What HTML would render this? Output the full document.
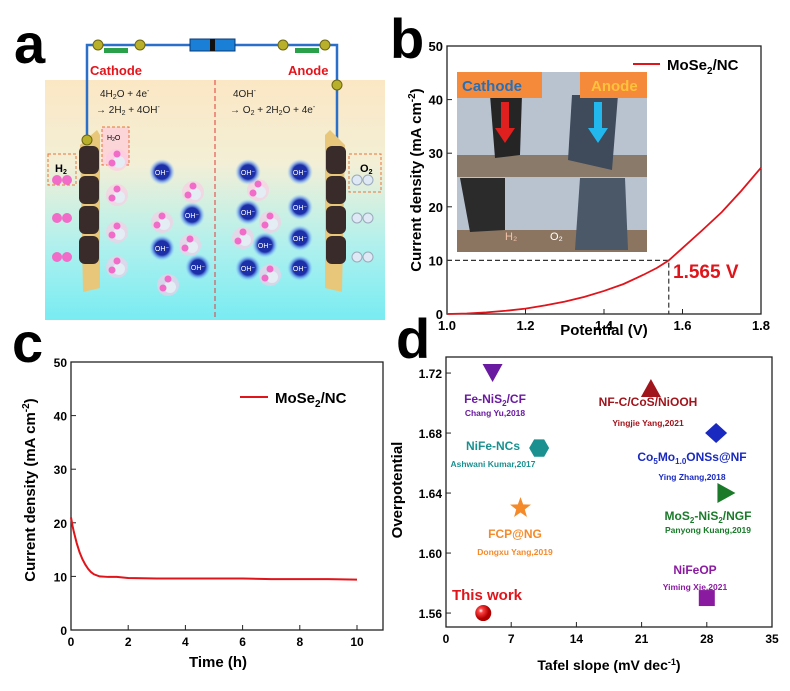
<!DOCTYPE html>
<html><head><meta charset="utf-8"><style>
html,body{margin:0;padding:0;background:#fff;}
svg{display:block;font-family:"Liberation Sans",Arial,sans-serif;}
</style></head><body>
<svg id="fig" width="790" height="691" viewBox="0 0 790 691" xmlns="http://www.w3.org/2000/svg">
<defs>
<linearGradient id="bg" x1="0" y1="0" x2="0" y2="1">
<stop offset="0" stop-color="#fbe7c4"/><stop offset="0.35" stop-color="#f3efd6"/><stop offset="0.7" stop-color="#aef0ee"/><stop offset="1" stop-color="#78ecf2"/>
</linearGradient>
<radialGradient id="ohg"><stop offset="0.55" stop-color="#1d2fa8"/><stop offset="0.75" stop-color="#4f7de8" stop-opacity="0.6"/><stop offset="1" stop-color="#8fd6ff" stop-opacity="0"/></radialGradient>
<radialGradient id="sph" cx="0.35" cy="0.35"><stop offset="0" stop-color="#fff"/><stop offset="0.3" stop-color="#ff4040"/><stop offset="1" stop-color="#b00000"/></radialGradient>
</defs>

<text x="14" y="63" font-size="56" font-weight="bold">a</text>
<text x="390" y="58" font-size="56" font-weight="bold">b</text>
<text x="12" y="362" font-size="56" font-weight="bold">c</text>
<text x="396" y="358" font-size="56" font-weight="bold">d</text>

<g id="panelA">
<rect x="45" y="80" width="340" height="240" fill="url(#bg)"/>
<polyline points="87,140 87,45 337,45 337,140" fill="none" stroke="#2a6fc9" stroke-width="2.5"/>
<rect x="190" y="39" width="45" height="12" fill="#1a7fd6" stroke="#0b3a75"/>
<rect x="210" y="39" width="5" height="12" fill="#111"/>
<text x="90" y="75" font-size="13" font-weight="bold" fill="#e5141b">Cathode</text>
<text x="288" y="75" font-size="13" font-weight="bold" fill="#e5141b">Anode</text>
<line x1="215" y1="80" x2="215" y2="320" stroke="#e23a3a" stroke-width="1" stroke-dasharray="5,3"/>
<text x="100" y="97" font-size="10" fill="#222">4H<tspan font-size="7" dy="2">2</tspan><tspan dy="-2">O + 4e</tspan><tspan font-size="7" dy="-4">-</tspan></text>
<text x="96" y="113" font-size="10" fill="#222">→ 2H<tspan font-size="7" dy="2">2</tspan><tspan dy="-2"> + 4OH</tspan><tspan font-size="7" dy="-4">-</tspan></text>
<text x="233" y="97" font-size="10" fill="#222">4OH<tspan font-size="7" dy="-4">-</tspan></text>
<text x="230" y="113" font-size="10" fill="#222">→ O<tspan font-size="7" dy="2">2</tspan><tspan dy="-2"> + 2H</tspan><tspan font-size="7" dy="2">2</tspan><tspan dy="-2">O + 4e</tspan><tspan font-size="7" dy="-4">-</tspan></text>
<polygon points="80,145 97,130 100,135 100,288 83,292" fill="#e8c77a"/>
<polygon points="345,145 330,130 325,135 325,288 342,292" fill="#e8c77a"/>
<rect x="48" y="154" width="28" height="31" fill="none" stroke="#e8743a" stroke-dasharray="3,2"/>
<rect x="102" y="127" width="27" height="38" fill="#fbd5d8" stroke="#e8743a" stroke-dasharray="3,2"/>
<rect x="349" y="154" width="32" height="38" fill="none" stroke="#e8743a" stroke-dasharray="3,2"/>
<text x="55" y="172" font-size="11" font-weight="bold">H<tspan font-size="7" dy="2">2</tspan></text>
<text x="107" y="140" font-size="7">H<tspan font-size="5" dy="1">2</tspan><tspan dy="-1">O</tspan></text>
<text x="360" y="172" font-size="11" font-weight="bold">O<tspan font-size="7" dy="2">2</tspan></text>
<g id="molecules"></g>
</g>

<g id="panelB"></g>
<g id="panelC"></g>
<g id="panelD"></g>
</svg>
<script>
// ---- Panel b data ----
const lsvPotential = [1.0,1.05,1.1,1.15,1.2,1.25,1.3,1.35,1.4,1.45,1.5,1.535,1.565,1.6,1.65,1.7,1.75,1.8];
const lsvCurrent   = [0,0.1,0.3,0.6,1.0,1.6,2.3,3.2,4.3,5.6,7.3,8.6,10,12.3,15.6,19,23,27.3];
const lsvXTicks = [1.0,1.2,1.4,1.6,1.8];
const lsvYTicks = [0,10,20,30,40,50];
// ---- Panel c data ----
const stabTime    = [0,0.05,0.1,0.2,0.3,0.4,0.5,0.6,0.7,0.8,1,1.3,1.6,2,3,4,5,6,7,8,9,10];
const stabCurrent = [21,19.5,18.3,16.2,14.5,13.2,12.2,11.4,10.8,10.4,10.0,9.9,9.9,9.7,9.6,9.6,9.6,9.6,9.5,9.5,9.5,9.4];
const stabXTicks = [0,2,4,6,8,10];
const stabYTicks = [0,10,20,30,40,50];
// ---- Panel d data ----
const catNames   = ["This work","Fe-NiS2/CF","NF-C/CoS/NiOOH","Co5Mo1.0ONSs@NF","NiFe-NCs","FCP@NG","MoS2-NiS2/NGF","NiFeOP"];
const catTafel   = [4,5,22,29,10,8,30,28];
const catOverpot = [1.56,1.72,1.71,1.68,1.67,1.63,1.64,1.57];
const catRefs    = ["","Chang Yu,2018","Yingjie Yang,2021","Ying Zhang,2018","Ashwani Kumar,2017","Dongxu Yang,2019","Panyong Kuang,2019","Yiming Xie,2021"];
const tafelTicks = [0,7,14,21,28,35];
const overTicks  = [1.56,1.60,1.64,1.68,1.72];

const NS="http://www.w3.org/2000/svg";
function mk(parent,tag,attrs,text){const e=document.createElementNS(NS,tag);for(const k in attrs)e.setAttribute(k,attrs[k]);if(text!==undefined)e.textContent=text;parent.appendChild(e);return e;}

(function(){
 const g=document.getElementById('molecules');
 [[89,160],[89,190],[89,220],[89,250],[336,160],[336,190],[336,220],[336,250]].forEach(p=>{
   const b=mk(g,'rect',{x:p[0]-10,y:p[1]-14,width:20,height:28,rx:6,fill:'#3a2b2b'});
   
   
 });
 [180,218,257].forEach(yy=>{mk(g,'circle',{cx:57,cy:yy,r:5,fill:'#f06cc8'});mk(g,'circle',{cx:67,cy:yy,r:5,fill:'#f06cc8'});
   mk(g,'circle',{cx:357,cy:yy,r:5,fill:'#dfe8f5',stroke:'#9ab'});mk(g,'circle',{cx:368,cy:yy,r:5,fill:'#dfe8f5',stroke:'#9ab'});});
 [[117,160],[117,195],[117,232],[117,267],[193,192],[162,222],[190,245],[168,285],[258,190],[270,222],[243,238],[270,275]].forEach(p=>{
   mk(g,'circle',{cx:p[0],cy:p[1],r:11,fill:'#ffc8e6',opacity:0.6});
   mk(g,'circle',{cx:p[0]+2,cy:p[1]+2,r:6,fill:'#e4ecf4'});
   mk(g,'circle',{cx:p[0]-5,cy:p[1]+3,r:3.5,fill:'#f06cc8'});
   mk(g,'circle',{cx:p[0],cy:p[1]-6,r:3.5,fill:'#f06cc8'});
 });
 [[162,172],[192,215],[162,248],[198,267],[248,172],[300,172],[248,212],[300,207],[265,245],[300,238],[248,268],[300,268]].forEach(p=>{
   mk(g,'circle',{cx:p[0],cy:p[1],r:13,fill:'url(#ohg)'});
   mk(g,'text',{x:p[0],y:p[1]+3,'font-size':7,fill:'#fff','text-anchor':'middle'},'OH⁻');
 });
 [[87,140],[98,45],[140,45],[283,45],[325,45],[337,85]].forEach(p=>{
   mk(g,'circle',{cx:p[0],cy:p[1],r:5,fill:'#b8b02a',stroke:'#6b6510'});
 });
 mk(g,'rect',{x:104,y:48,width:24,height:5,fill:'#2aa04a'});
 mk(g,'rect',{x:295,y:48,width:24,height:5,fill:'#2aa04a'});
})();

function axesBox(g,L,R,T,B,xTicks,yTicks,xs,ys,xfmt,yfmt,fs,prefix){
 mk(g,'rect',{x:L,y:T,width:R-L,height:B-T,fill:'none',stroke:'#222','stroke-width':1.3});
 xTicks.forEach(v=>{const x=xs(v);
   mk(g,'line',{x1:x,y1:B,x2:x,y2:B-5,stroke:'#222'});
   const l=mk(g,'text',{x:x,y:B+16,'font-size':fs,'font-weight':'bold','text-anchor':'middle'},xfmt(v));
   
   
 });
 yTicks.forEach(v=>{const y=ys(v);
   mk(g,'line',{x1:L,y1:y,x2:L+5,y2:y,stroke:'#222'});
   const l=mk(g,'text',{x:L-4,y:y+5,'font-size':fs,'font-weight':'bold','text-anchor':'end'},yfmt(v));
   
   
 });
}

(function(){
 const g=document.getElementById('panelB');
 const L=447,R=761,T=46,B=314;
 const xs=v=>L+(v-1.0)/0.8*(R-L), ys=v=>B-v/50*(B-T);
 const ph=mk(g,'g',{});
 
 
 mk(ph,'rect',{x:457,y:72,width:190,height:180,fill:'#b9c3d0'});
 mk(ph,'rect',{x:457,y:155,width:190,height:22,fill:'#8a7a6a'});
 mk(ph,'rect',{x:457,y:230,width:190,height:22,fill:'#8b7560'});
 mk(ph,'polygon',{points:'490,95 522,95 520,155 495,158',fill:'#252526'});
 mk(ph,'polygon',{points:'572,95 618,95 612,170 568,160',fill:'#3f4a5a'});
 mk(ph,'polygon',{points:'460,178 505,178 505,230 470,232',fill:'#2b2b2c'});
 mk(ph,'polygon',{points:'580,178 625,178 628,250 575,250',fill:'#4b5868'});
 mk(ph,'rect',{x:457,y:72,width:85,height:26,fill:'#f58a3a'});
 mk(ph,'rect',{x:580,y:72,width:67,height:26,fill:'#f58a3a'});
 mk(ph,'text',{x:462,y:91,'font-size':15,'font-weight':'bold',fill:'#2a6fb5'},'Cathode');
 mk(ph,'text',{x:591,y:91,'font-size':15,'font-weight':'bold',fill:'#ffc23a'},'Anode');
 mk(ph,'rect',{x:501,y:102,width:8,height:28,fill:'#e0201e'});
 mk(ph,'polygon',{points:'495,128 515,128 505,143',fill:'#e0201e'});
 mk(ph,'rect',{x:594,y:102,width:8,height:28,fill:'#22b8ee'});
 mk(ph,'polygon',{points:'588,128 608,128 598,143',fill:'#22b8ee'});
 mk(ph,'text',{x:505,y:240,'font-size':11,fill:'#f2c2a8'},'H₂');
 mk(ph,'text',{x:550,y:240,'font-size':11,fill:'#fff'},'O₂');
 axesBox(g,L,R,T,B,lsvXTicks,lsvYTicks,xs,ys,v=>v.toFixed(1),v=>String(v),13,'lsv');
 const v0=1.565,j0=10;
 mk(g,'polyline',{points:`${L},${ys(j0)} ${xs(v0)},${ys(j0)} ${xs(v0)},${B}`,fill:'none',stroke:'#333','stroke-dasharray':'5,3','stroke-width':1.2});
 const p=mk(g,'polyline',{points:lsvPotential.map((v,i)=>xs(v)+','+ys(lsvCurrent[i])).join(' '),fill:'none',stroke:'#e0141b','stroke-width':1.8});
 
 
 const a=mk(g,'text',{x:673,y:278,'font-size':19,'font-weight':'bold',fill:'#e0141b'},'1.565 V');
 
 
 mk(g,'line',{x1:633,y1:64,x2:660,y2:64,stroke:'#e0141b','stroke-width':2});
 const lg=mk(g,'text',{x:667,y:70,'font-size':15,'font-weight':'bold'});
 lg.innerHTML='MoSe<tspan font-size="10" dy="4">2</tspan><tspan dy="-4">/NC</tspan>';
 
 
 const yl=mk(g,'text',{x:0,y:0,'font-size':15,'font-weight':'bold','text-anchor':'middle',transform:'translate(421,180) rotate(-90)'});
 yl.innerHTML='Current density (mA cm<tspan font-size="10" dy="-6">-2</tspan><tspan dy="6">)</tspan>';
 
 
 const xl=mk(g,'text',{x:604,y:335,'font-size':15,'font-weight':'bold','text-anchor':'middle'},'Potential (V)');
 
 
})();

(function(){
 const g=document.getElementById('panelC');
 const L=71,R=383,T=362,B=630;
 const xs=v=>L+v/10*(357-L), ys=v=>B-v/50*(B-T);
 axesBox(g,L,R,T,B,stabXTicks,stabYTicks,xs,ys,v=>String(v),v=>String(v),12,'stab');
 const p=mk(g,'polyline',{points:stabTime.map((v,i)=>xs(v)+','+ys(stabCurrent[i])).join(' '),fill:'none',stroke:'#e0141b','stroke-width':2});
 
 
 mk(g,'line',{x1:240,y1:397,x2:268,y2:397,stroke:'#e0141b','stroke-width':2});
 const lg=mk(g,'text',{x:275,y:403,'font-size':15,'font-weight':'bold'});
 lg.innerHTML='MoSe<tspan font-size="10" dy="4">2</tspan><tspan dy="-4">/NC</tspan>';
 
 
 const yl=mk(g,'text',{x:0,y:0,'font-size':15,'font-weight':'bold','text-anchor':'middle',transform:'translate(35,490) rotate(-90)'});
 yl.innerHTML='Current density (mA cm<tspan font-size="10" dy="-6">-2</tspan><tspan dy="6">)</tspan>';
 
 
 const xl=mk(g,'text',{x:218,y:667,'font-size':15,'font-weight':'bold','text-anchor':'middle'},'Time (h)');
 
 
})();

(function(){
 const g=document.getElementById('panelD');
 const L=446,R=772,T=357,B=627;
 const y0=1.5507,y1=1.7307;
 const xs=v=>L+v/35*(R-L), ys=v=>B-(v-y0)/(y1-y0)*(B-T);
 axesBox(g,L,R,T,B,tafelTicks,overTicks,xs,ys,v=>String(v),v=>v.toFixed(2),12,'cmp');
 const colors=['#e0141b','#6a1aa0','#a0141b','#1a2ac0','#1a9090','#f58a2a','#1a7a2a','#8a1aa0'];
 const subs={"Fe-NiS2/CF":'Fe-NiS<tspan font-size="8" dy="3">2</tspan><tspan dy="-3">/CF</tspan>',
   "Co5Mo1.0ONSs@NF":'Co<tspan font-size="8" dy="3">5</tspan><tspan dy="-3">Mo</tspan><tspan font-size="8" dy="3">1.0</tspan><tspan dy="-3">ONSs@NF</tspan>',
   "MoS2-NiS2/NGF":'MoS<tspan font-size="8" dy="3">2</tspan><tspan dy="-3">-NiS</tspan><tspan font-size="8" dy="3">2</tspan><tspan dy="-3">/NGF</tspan>'};
 const namePos=[[487,600],[495,403],[648,406],[692,461],[493,450],[515,538],[708,520],[695,574]];
 catNames.forEach((n,i)=>{
  const x=xs(catTafel[i]), y=ys(catOverpot[i]), c=colors[i];
  let m;
  if(i===0) m=mk(g,'circle',{cx:x,cy:y,r:8,fill:'url(#sph)'});
  else if(i===1) m=mk(g,'polygon',{points:`${x-10},${y-9} ${x+10},${y-9} ${x},${y+9}`,fill:c});
  else if(i===2) m=mk(g,'polygon',{points:`${x-10},${y+9} ${x+10},${y+9} ${x},${y-9}`,fill:c});
  else if(i===3) m=mk(g,'polygon',{points:`${x},${y-10} ${x+11},${y} ${x},${y+10} ${x-11},${y}`,fill:c});
  else if(i===4){const pts=[];for(let k=0;k<6;k++){const a=Math.PI/3*k;pts.push((x+10*Math.cos(a))+','+(y+10*Math.sin(a)));}m=mk(g,'polygon',{points:pts.join(' '),fill:c});}
  else if(i===5){const pts=[];for(let k=0;k<10;k++){const a=-Math.PI/2+Math.PI/5*k,r=k%2?4.5:11;pts.push((x+r*Math.cos(a))+','+(y+r*Math.sin(a)));}m=mk(g,'polygon',{points:pts.join(' '),fill:c});}
  else if(i===6) m=mk(g,'polygon',{points:`${x-8},${y-10} ${x-8},${y+10} ${x+10},${y}`,fill:c});
  else m=mk(g,'rect',{x:x-8,y:y-8,width:16,height:16,fill:c});
  
  
  const np=namePos[i];
  const t=mk(g,'text',{x:np[0],y:np[1],'font-size':i===0?15:12,'font-weight':'bold',fill:c,'text-anchor':'middle'});
  t.innerHTML=subs[n]||n;
  
  
  if(catRefs[i]){
   const r=mk(g,'text',{x:np[0],y:np[1]+(i===2?20:i===4||i===5?17:i===3?19:i===7?16:13),'font-size':8.5,'font-weight':'bold',fill:c,'text-anchor':'middle'},catRefs[i]);
   
   
  }
 });
 const yl=mk(g,'text',{x:0,y:0,'font-size':15,'font-weight':'bold','text-anchor':'middle',transform:'translate(402,490) rotate(-90)'},'Overpotential');
 
 
 const xl=mk(g,'text',{x:609,y:670,'font-size':14,'font-weight':'bold','text-anchor':'middle'});
 xl.innerHTML='Tafel slope (mV dec<tspan font-size="9" dy="-5">-1</tspan><tspan dy="5">)</tspan>';
 
 
})();
</script>
</body></html>
